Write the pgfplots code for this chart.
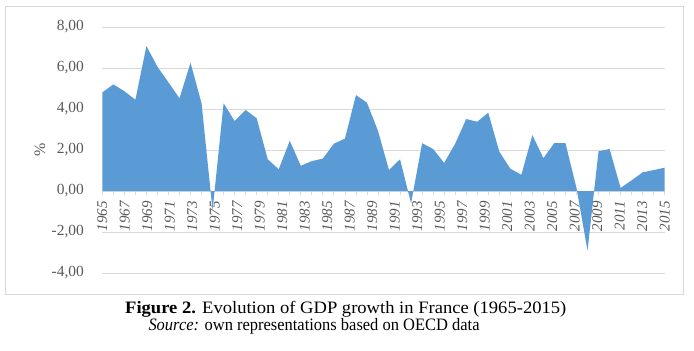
\documentclass[border=0pt]{standalone}
\usepackage{pgfplots}
\pgfplotsset{compat=1.18}
\usepackage{graphicx}
\usepackage{fontspec}
\setmainfont{Liberation Serif}
\definecolor{areablue}{HTML}{5B9BD5}
\definecolor{gridgray}{HTML}{D9D9D9}
\definecolor{txtgray}{HTML}{595959}
\begin{document}
\begin{tikzpicture}[x=1bp,y=1bp]
\path[use as bounding box] (0,0) rectangle (694,350);
\draw[gridgray, line width=1bp] (5,56) rectangle (683,343);
\begin{axis}[
  at={(102.3bp,77bp)}, anchor=south west,
  scale only axis, width=562.4bp, height=246bp,
  xmin=0, xmax=51, ymin=-4, ymax=8,
  axis x line*=middle, axis y line*=left,
  hide obscured x ticks=false,
  hide obscured y ticks=false,
  y axis line style={draw=none},
  x axis line style={gridgray, line width=0.8bp},
  ytick={-4,-2,0,2,4,6,8},
  yticklabels={{-4,00},{-2,00},{0,00},{2,00},{4,00},{6,00},{8,00}},
  ymajorgrids, major grid style={gridgray, line width=0.8bp},
  major y tick style={draw=none},
  xtick={0,2.04,4.08,6.12,8.16,10.2,12.24,14.28,16.32,18.36,20.4,22.44,24.48,26.52,28.56,30.6,32.64,34.68,36.72,38.76,40.8,42.84,44.88,46.92,48.96,51},
  xticklabels={1965,1967,1969,1971,1973,1975,1977,1979,1981,1983,1985,1987,1989,1991,1993,1995,1997,1999,2001,2003,2005,2007,2009,2011,2013,2015},
  major x tick style={draw=none},
  minor xtick={0,1,...,51},
  minor x tick style={gridgray, line width=0.8bp},
  minor tick length=3.5bp,
  tick align=outside,
  yticklabel style={font=\fontsize{15.5}{18}\selectfont, text=txtgray, anchor=east, inner sep=0pt, xshift=-14bp},
  xticklabel style={font=\fontsize{15}{18}\selectfont\itshape, text=txtgray, rotate=90, anchor=east, inner sep=0pt},
  xticklabel shift=6bp,
  clip=false,
]
\addplot[fill=areablue, draw=none] coordinates {
(0,0)
(0,4.81) (1,5.20) (2,4.87) (3,4.45) (4,7.07) (5,6.06) (6,5.30) (7,4.52) (8,6.26) (9,4.28)
(10,-0.95) (11,4.28) (12,3.41) (13,3.95) (14,3.55) (15,1.55) (16,1.06) (17,2.45) (18,1.23) (19,1.46)
(20,1.58) (21,2.31) (22,2.55) (23,4.68) (24,4.31) (25,2.93) (26,1.02) (27,1.55) (28,-0.60) (29,2.33)
(30,2.05) (31,1.37) (32,2.31) (33,3.51) (34,3.38) (35,3.82) (36,1.92) (37,1.09) (38,0.79) (39,2.73)
(40,1.60) (41,2.35) (42,2.33) (43,0.15) (44,-2.91) (45,1.94) (46,2.05) (47,0.15) (48,0.52) (49,0.91)
(50,1.02) (51,1.14)
(51,0)
} -- cycle;
\end{axis}
\node[rotate=90, text=txtgray, font=\fontsize{16}{18}\selectfont] at (40,200) {\%};
\node[anchor=base west, inner sep=0pt, font=\fontsize{17.5}{20}\selectfont] at (125,36.7)
  {\scalebox{1.065}[1]{\textbf{Figure 2.} Evolution of GDP growth in France (1965-2015)}};
\node[anchor=base west, inner sep=0pt, font=\fontsize{17.5}{20}\selectfont] at (148.3,19.3)
  {\scalebox{0.945}[1]{\textit{Source:} own representations based on OECD data}};
\end{tikzpicture}
\end{document}
